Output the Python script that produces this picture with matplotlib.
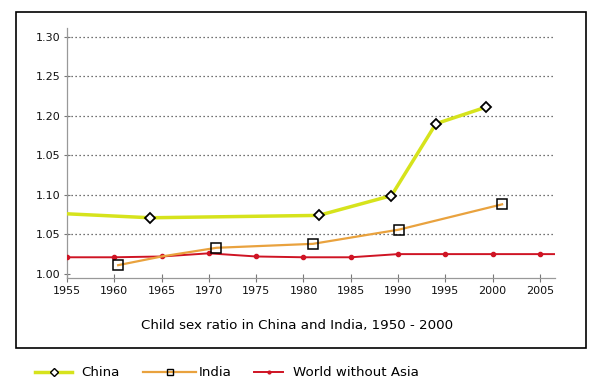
import numpy as np
import matplotlib.pyplot as plt
from matplotlib.patches import Rectangle
from matplotlib.lines import Line2D

# Datos
china_anios = [1955, 1963.8, 1981.6, 1989.3, 1994.0, 1999.3]
china_valores = [1.076, 1.071, 1.074, 1.099, 1.190, 1.211]

india_anios = [1960.4, 1965, 1970.8, 1981.0, 1990.1, 2001.0]
india_valores = [1.011, 1.022, 1.033, 1.038, 1.056, 1.088]

mundo_anios = [1955, 1960, 1965, 1970, 1975, 1980, 1985, 1990, 1995, 2000, 2005, 2006.6]
mundo_valores = [1.021, 1.021, 1.022, 1.026, 1.022, 1.021, 1.021, 1.025, 1.025, 1.025, 1.025, 1.025]

anios_ticks = list(range(1955, 2010, 5))
y_ticks = [1.00, 1.05, 1.10, 1.15, 1.20, 1.25, 1.30]
y_etiquetas = ['1.00', '1.05', '1.10', '1.05', '1.20', '1.25', '1.30']

titulo = 'Child sex ratio in China and India, 1950 - 2000'

c_china = '#d6e31c'
c_india = '#e9a23e'
c_mundo = '#cf1424'

fig = plt.figure(figsize=(6.04, 3.85), dpi=100)
ax = fig.add_axes([0.111, 0.279, 0.808, 0.648])

# Marco exterior
fig.patches.append(Rectangle((0.027, 0.096), 0.943, 0.873, transform=fig.transFigure,
                             fill=False, edgecolor='black', linewidth=1.2))

# Lineas de cuadricula punteadas
for y in y_ticks[1:]:
    ax.axhline(y, color='#444444', linestyle=(0, (1, 2.2)), linewidth=0.9, zorder=1)

ax.plot(mundo_anios, mundo_valores, '-', color=c_mundo, linewidth=1.4,
        marker='o', markersize=3, markevery=list(range(11)), zorder=3)
ax.plot(india_anios, india_valores, '-', color=c_india, linewidth=1.6,
        marker='s', markersize=7, markerfacecolor='none', markeredgecolor='black',
        markeredgewidth=1.1, markevery=[0, 2, 3, 4, 5], zorder=4)
ax.plot(china_anios, china_valores, '-', color=c_china, linewidth=2.5,
        marker='D', markersize=5.5, markerfacecolor='white', markeredgecolor='black',
        markeredgewidth=1.3, markevery=[1, 2, 3, 4, 5], zorder=5)

ax.set_xlim(1955, 2006.6)
ax.set_ylim(0.9953, 1.311)
ax.set_xticks(anios_ticks)
ax.set_yticks(y_ticks)
ax.set_yticklabels(y_etiquetas)

for lado in ['top', 'right']:
    ax.spines[lado].set_visible(False)
for lado in ['left', 'bottom']:
    ax.spines[lado].set_color('#999999')
    ax.spines[lado].set_linewidth(0.9)

ax.tick_params(axis='both', direction='inout', color='#777777', labelsize=8,
               labelcolor='#111111')
ax.tick_params(axis='x', length=6, pad=3)
ax.tick_params(axis='y', length=5, pad=2)

fig.text(0.4925, 0.154, titulo, ha='center', va='center', fontsize=9.6, color='black')

# Leyenda: tres bloques separados para controlar largo de cada muestra
items = [
    (Line2D([], [], color=c_china, linewidth=2.5, marker='D', markersize=4,
            markerfacecolor='white', markeredgecolor='black'), 'China', 0.058, 2.8, 0.68),
    (Line2D([], [], color=c_india, linewidth=1.6, marker='s', markersize=5,
            markerfacecolor='none', markeredgecolor='black'), 'India', 0.237, 4.0, 0.15),
    (Line2D([], [], color=c_mundo, linewidth=1.4, marker='o', markersize=2),
     'World without Asia', 0.4205, 2.2, 0.75),
]
for h, etiqueta, x0, largo, sep in items:
    fig.legend([h], [etiqueta], loc='center left', bbox_to_anchor=(x0, 0.032),
               frameon=False, fontsize=9.6, handlelength=largo, handletextpad=sep,
               borderpad=0, borderaxespad=0)

plt.savefig('out.png', dpi=100)
